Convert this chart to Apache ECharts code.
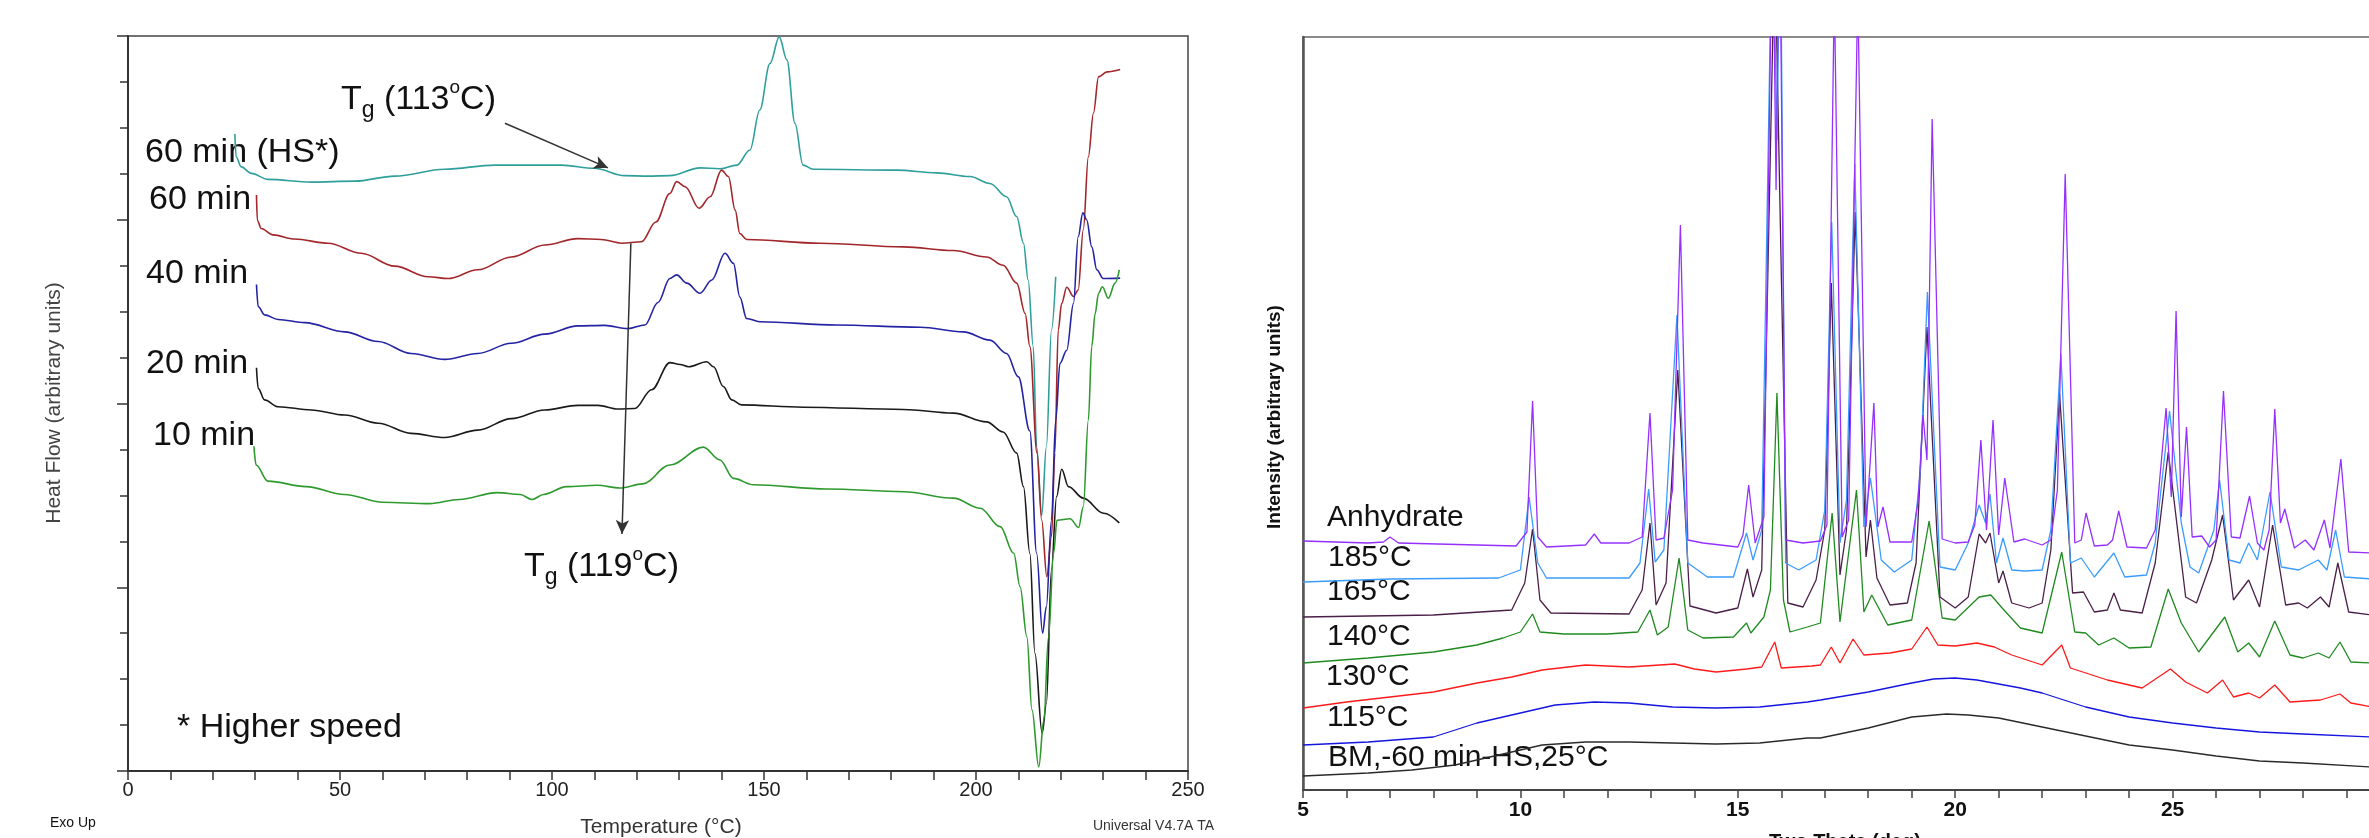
<!DOCTYPE html>
<html>
<head>
<meta charset="utf-8">
<script src="https://cdn.jsdelivr.net/npm/echarts@6/dist/echarts.min.js"></script>
<style>
  html, body { margin: 0; padding: 0; background: #fff; }
  #chart { width: 2369px; height: 838px; }
</style>
</head>
<body>
<div id="chart"></div>
<script>
// ---- DSC panel (left): [temperature °C, heat flow, arbitrary units] ----
const dsc60HS = [[25.2,13.87],[25.5,13.37],[26.7,13.15],[29.1,13.01],[33,12.88],[43.2,12.82],[53.5,12.84],[62.9,12.95],[74.7,13.10],[86.5,13.19],[102.2,13.19],[110,13.12],[117.1,12.96],[122.6,12.95],[127.8,12.96],[134.9,13.13],[139.6,13.11],[143.6,13.19],[146.7,13.52],[149.0,14.39],[151.4,15.40],[153.6,15.98],[155.4,15.48],[157.3,14.10],[159.2,13.19],[161.6,13.10],[181.3,13.08],[190.7,13.02],[198.6,12.94],[203.3,12.79],[207.2,12.5],[209.6,12.07],[211.2,11.49],[212.3,10.69],[213.5,9.24],[214.3,7.06],[215.5,5.57],[216.6,7.06],[217.8,9.6],[218.8,10.76]];
const dsc60 = [[30.3,12.54],[30.5,11.99],[31.4,11.81],[34.2,11.67],[39.3,11.58],[47.2,11.49],[55,11.27],[62.9,10.99],[70.8,10.76],[75.5,10.72],[82.5,10.91],[90.4,11.19],[98.3,11.45],[106.1,11.59],[111.6,11.57],[116.4,11.49],[121.1,11.52],[124.5,11.95],[127.8,12.57],[129.4,12.83],[131.4,12.72],[134.7,12.25],[137.3,12.5],[140.0,13.08],[141.6,12.94],[143.2,12.21],[144.3,11.7],[145.9,11.57],[163.2,11.49],[182.9,11.41],[194.7,11.33],[202.5,11.19],[206.4,11.01],[209.6,10.62],[211.6,9.96],[212.7,9.24],[214.4,6.92],[215.5,5.46],[216.7,4.23],[217.8,5.1],[218.6,6.92],[219.4,9.6],[220.2,10.18],[221.4,10.53],[223.0,10.33],[224.1,10.47],[225.3,11.78],[226.5,13.37],[227.7,14.32],[228.9,15.11],[230.9,15.22],[234.0,15.27]];
const dsc40 = [[30.3,10.59],[30.7,10.11],[32.2,9.93],[35.4,9.83],[41.7,9.76],[51.1,9.56],[59,9.35],[66.8,9.09],[74.7,8.96],[82.5,9.09],[90.4,9.31],[98.3,9.51],[106.1,9.69],[112.4,9.70],[117.9,9.63],[121.9,9.71],[125,10.2],[127.8,10.72],[129.4,10.80],[131.8,10.62],[134.9,10.40],[137.7,10.69],[140.8,11.27],[142.8,11.05],[144.3,10.32],[145.9,9.85],[149.0,9.78],[167.1,9.71],[186.8,9.66],[197,9.56],[203.3,9.38],[207.2,9.09],[210,8.58],[212.7,7.4],[214.3,4.74],[215.7,3.0],[216.6,3.58],[217.8,5.46],[218.8,7.64],[219.8,8.87],[221.4,9.16],[223.0,10.18],[224.1,11.63],[225.2,12.15],[226.1,12.0],[227.3,11.41],[228.5,10.91],[230.0,10.72],[234.0,10.73]];
const dsc20 = [[30.3,8.78],[30.7,8.33],[32.2,8.08],[35.4,7.93],[43.2,7.86],[51.1,7.75],[59,7.57],[66.8,7.35],[74.7,7.26],[82.5,7.42],[90.4,7.67],[98.3,7.86],[106.1,7.96],[110.8,7.96],[115.6,7.88],[119.5,7.89],[123.5,8.3],[127.8,8.89],[130.2,8.85],[132.2,8.80],[136.5,8.91],[138.1,8.80],[140.4,8.37],[142.4,8.08],[144.7,7.97],[159.2,7.92],[182.9,7.87],[194.7,7.79],[202.5,7.60],[206.4,7.38],[209.6,6.92],[211.2,6.19],[212.7,4.74],[213.9,2.56],[215.6,0.82],[216.6,1.47],[217.8,4.38],[219,5.97],[220.2,6.57],[221.8,6.19],[225.3,5.94],[230.1,5.61],[233.8,5.40]];
const dsc10 = [[29.7,7.07],[30.2,6.66],[33,6.31],[42,6.19],[51,6.02],[60.1,5.85],[71.1,5.82],[78.1,5.91],[87.1,6.06],[92.5,6.02],[95.3,5.91],[98,6.02],[103.4,6.19],[110.6,6.22],[116,6.16],[121.4,6.25],[127.8,6.66],[135.7,7.05],[139.6,6.77],[142.8,6.37],[147.5,6.23],[164.8,6.14],[182.9,6.08],[194.7,5.94],[201,5.72],[205.7,5.32],[208.9,4.74],[210.4,4.01],[212,2.92],[213.2,1.33],[214.8,0.09],[216.0,1.11],[217.1,2.92],[218.3,4.74],[219.1,5.46],[222.2,5.49],[224.2,5.30],[225.3,5.75],[226.5,7.64],[227.3,9.24],[228.1,9.96],[228.9,10.40],[229.8,10.54],[231.2,10.29],[232.8,10.62],[233.8,10.91]];
const dscNames = ['60 min (HS*)', '60 min', '40 min', '20 min', '10 min'];
const dscColors = ['#2f9f9c', '#a3262a', '#2323a3', '#1a1a1a', '#2e9a2e'];

// Tg arrows: [start, end] in data coordinates
const tg113Arrow = [[88.9, 14.1], [113.2, 13.13]];
const tg119Arrow = [[118.6, 11.49], [116.5, 5.16]];

// ---- XRD panel (right): [two theta deg, intensity, arbitrary units] ----
const xrdAnhydrate = [[5.0,249],[6.5,247],[6.85,248],[7.0,253],[7.2,247],[9.0,245],[9.9,244],[10.15,258],[10.28,389],[10.4,253],[10.6,243],[11.5,245],[11.7,256],[11.85,247],[12.5,247],[12.8,253],[12.98,377],[13.12,250],[13.3,252],[13.5,300],[13.68,565],[13.85,250],[14.2,247],[15.0,243],[15.12,255],[15.25,305],[15.4,247],[15.6,273],[15.8,900],[15.88,600],[15.96,900],[16.1,250],[16.5,247],[16.9,249],[17.05,265],[17.22,800],[17.4,253],[17.55,270],[17.76,800],[17.95,263],[18.13,387],[18.22,263],[18.34,283],[18.5,248],[19.0,248],[19.15,290],[19.26,375],[19.35,330],[19.47,671],[19.7,251],[20.0,247],[20.3,248],[20.45,265],[20.59,350],[20.72,260],[20.87,370],[21.0,255],[21.14,312],[21.35,248],[21.6,251],[22.0,245],[22.2,250],[22.35,300],[22.53,616],[22.75,247],[22.9,250],[23.01,277],[23.2,244],[23.5,245],[23.62,250],[23.76,279],[23.95,243],[24.4,242],[24.6,260],[24.85,382],[24.97,293],[25.08,479],[25.2,273],[25.32,363],[25.45,253],[25.67,254],[25.85,243],[26.0,250],[26.17,399],[26.35,253],[26.55,252],[26.77,294],[26.95,247],[27.1,240],[27.22,260],[27.35,381],[27.48,267],[27.58,281],[27.8,242],[28.05,250],[28.25,240],[28.49,270],[28.62,242],[28.87,331],[29.05,238],[29.6,237]];
const xrd185 = [[5.0,208],[7.0,211],[9.5,212],[10.0,220],[10.2,293],[10.4,227],[10.6,212],[12.5,212],[12.75,227],[12.95,301],[13.1,228],[13.3,240],[13.6,475],[13.85,227],[14.3,213],[14.9,213],[15.2,257],[15.35,230],[15.55,260],[15.8,900],[15.9,650],[15.98,880],[16.1,227],[16.4,220],[16.8,230],[17.0,280],[17.16,568],[17.35,247],[17.5,290],[17.69,626],[17.9,263],[18.05,312],[18.3,230],[18.6,218],[19.0,230],[19.2,320],[19.36,498],[19.65,223],[20.0,220],[20.3,247],[20.55,285],[20.7,267],[20.8,296],[20.95,227],[21.1,252],[21.3,220],[21.6,219],[22.0,220],[22.2,260],[22.43,436],[22.65,227],[22.9,232],[23.2,213],[23.65,237],[23.9,213],[24.4,215],[24.6,247],[24.93,379],[25.2,267],[25.4,223],[25.6,217],[25.95,260],[26.08,310],[26.3,230],[26.55,227],[26.75,247],[26.95,230],[27.24,298],[27.5,223],[27.9,220],[28.35,230],[28.55,220],[28.75,260],[28.95,213],[29.6,211]];
const xrd165 = [[5.0,173],[8.0,175],[9.8,180],[10.1,207],[10.28,261],[10.45,190],[10.7,177],[12.5,176],[12.8,200],[12.98,267],[13.12,185],[13.35,207],[13.62,420],[13.9,184],[14.5,177],[15.0,182],[15.22,221],[15.35,193],[15.55,220],[15.85,850],[16.15,187],[16.5,183],[16.8,210],[17.0,260],[17.15,507],[17.35,215],[17.5,260],[17.7,578],[17.95,233],[18.05,270],[18.2,212],[18.5,185],[18.9,187],[19.1,227],[19.35,463],[19.65,193],[20.0,182],[20.3,193],[20.55,256],[20.7,247],[20.8,257],[21.0,207],[21.1,219],[21.3,187],[21.7,182],[22.0,187],[22.2,240],[22.4,396],[22.7,197],[22.95,198],[23.2,178],[23.5,180],[23.65,197],[23.8,180],[24.3,177],[24.6,227],[24.9,338],[25.3,193],[25.55,187],[25.9,230],[26.15,275],[26.4,190],[26.75,210],[27.0,183],[27.3,265],[27.6,185],[27.9,187],[28.1,182],[28.4,193],[28.6,183],[28.8,227],[29.05,178],[29.6,175]];
const xrd140 = [[5.0,127],[6.5,132],[8.0,138],[9.0,145],[9.6,152],[10.0,158],[10.28,176],[10.45,158],[11.0,156],[12.0,156],[12.7,158],[12.98,180],[13.15,155],[13.4,163],[13.65,232],[13.85,160],[14.2,152],[14.9,153],[15.2,167],[15.3,157],[15.6,173],[15.75,200],[15.9,397],[16.05,190],[16.2,158],[16.6,163],[16.9,167],[17.17,277],[17.35,168],[17.73,300],[17.9,178],[18.08,195],[18.45,165],[19.0,170],[19.4,269],[19.7,172],[20.0,170],[20.55,193],[20.82,195],[21.1,181],[21.5,162],[22.0,157],[22.45,238],[22.75,158],[23.0,157],[23.3,145],[23.65,152],[24.0,142],[24.5,143],[24.9,201],[25.2,167],[25.6,138],[26.2,173],[26.5,138],[26.75,147],[27.0,133],[27.35,169],[27.7,135],[28.0,132],[28.35,137],[28.6,132],[28.85,148],[29.1,128],[29.6,127]];
const xrd130 = [[5.0,82],[6.0,88],[7.0,93],[8.0,98],[9.0,107],[9.8,113],[10.5,120],[11.5,125],[12.5,123],[13.55,126],[14.0,121],[14.5,118],[15.2,121],[15.55,123],[15.85,148],[16.0,122],[16.7,124],[16.9,125],[17.15,143],[17.35,127],[17.65,151],[17.9,135],[18.5,137],[19.0,141],[19.35,163],[19.6,145],[20.0,144],[20.5,147],[20.9,143],[21.3,135],[22.0,125],[22.45,145],[22.65,122],[23.5,110],[24.3,102],[24.95,121],[25.3,108],[25.8,97],[26.15,110],[26.4,93],[26.75,97],[27.0,92],[27.35,105],[27.7,88],[28.4,90],[28.85,96],[29.1,87],[29.6,83]];
const xrd115 = [[5.0,45],[6.5,48],[8.0,53],[9.0,67],[10.0,77],[10.8,85],[11.7,88],[12.5,87],[13.5,83],[14.5,82],[15.5,83],[16.6,88],[16.9,90],[18.0,98],[19.0,107],[19.5,111],[20.0,112],[20.5,110],[21.0,106],[21.5,102],[22.0,97],[22.5,90],[23.0,83],[24.0,73],[25.0,67],[26.0,62],[27.0,58],[28.0,56],[29.6,53]];
const xrdBM = [[5.0,14],[6.5,17],[7.5,20],[8.5,25],[9.5,35],[10.5,45],[11.5,48],[12.5,48],[13.5,47],[14.5,46],[15.5,47],[16.6,52],[16.9,52],[18.0,62],[19.0,73],[19.8,76],[20.3,75],[21.0,72],[22.0,63],[23.0,54],[24.0,45],[25.0,40],[26.0,34],[27.0,29],[28.0,27],[29.6,23]];
const xrdNames = ['Anhydrate', '185°C', '165°C', '140°C', '130°C', '115°C', 'BM,-60 min-HS,25°C'];
const xrdColors = ['#9530ff', '#3a9cff', '#4a1f48', '#1f8a1f', '#ff1a1a', '#1515e0', '#2a2a2a'];

const font = "'Liberation Sans', Arial, sans-serif";
const narrow = "'Liberation Sans Narrow', 'Liberation Sans', Arial, sans-serif";

const chart = echarts.init(document.getElementById('chart'));

const dscSeries = [dsc60HS, dsc60, dsc40, dsc20, dsc10].map((d, i) => ({
  name: dscNames[i],
  type: 'line',
  xAxisIndex: 0,
  yAxisIndex: 0,
  data: d,
  smooth: 0.35,
  smoothMonotone: 'x',
  showSymbol: false,
  lineStyle: { color: dscColors[i], width: 1.6 },
  z: 3
}));

const xrdSeries = [xrdAnhydrate, xrd185, xrd165, xrd140, xrd130, xrd115, xrdBM].map((d, i) => ({
  name: xrdNames[i],
  type: 'line',
  xAxisIndex: 1,
  yAxisIndex: 1,
  data: d,
  showSymbol: false,
  lineStyle: { color: xrdColors[i], width: 1.3 },
  z: 10 - i
}));

// Tg arrows drawn as markLines on an empty helper series
const arrowSeries = {
  type: 'line',
  xAxisIndex: 0,
  yAxisIndex: 0,
  data: [],
  markLine: {
    silent: true,
    symbol: ['none', 'arrow'],
    symbolSize: [10, 14],
    label: { show: false },
    lineStyle: { color: '#333', width: 1.5, type: 'solid' },
    data: [
      [{ coord: tg113Arrow[0] }, { coord: tg113Arrow[1] }],
      [{ coord: tg119Arrow[0] }, { coord: tg119Arrow[1] }]
    ]
  }
};

// rich text for T_g labels
const tgRich = {
  n: { fontSize: 34, fontFamily: font, fill: '#111', lineHeight: 44 },
  s: { fontSize: 23, fontFamily: font, fill: '#111', lineHeight: 22, verticalAlign: 'bottom' },
  p: { fontSize: 19, fontFamily: font, fill: '#111', lineHeight: 18, verticalAlign: 'top' }
};

function label(text, x, y, size) {
  return {
    type: 'text', x: x, y: y, silent: true,
    style: { text: text, fontSize: size, fontFamily: font, fill: '#111', verticalAlign: 'middle' }
  };
}

const dscLabelPos = [[145, 153], [149, 200], [146, 274], [146, 364], [153, 436]];
const xrdLabelPos = [[1327, 518], [1328, 558], [1327, 592], [1327, 637], [1326, 677], [1327, 718], [1328, 758]];

const graphics = [];
dscNames.forEach((n, i) => graphics.push(label(n, dscLabelPos[i][0], dscLabelPos[i][1], 34)));
xrdNames.forEach((n, i) => graphics.push(label(n, xrdLabelPos[i][0], xrdLabelPos[i][1], 30)));
graphics.push(label('* Higher speed', 177, 728, 34));
graphics.push({
  type: 'text', x: 341, y: 100, silent: true,
  style: { text: '{n|T}{s|g}{n| (113}{p|o}{n|C)}', rich: tgRich, verticalAlign: 'middle' }
});
graphics.push({
  type: 'text', x: 524, y: 567, silent: true,
  style: { text: '{n|T}{s|g}{n| (119}{p|o}{n|C)}', rich: tgRich, verticalAlign: 'middle' }
});
// axis names and instrument footers
graphics.push({
  type: 'text', x: 54, y: 403, rotation: Math.PI / 2, silent: true,
  style: { text: 'Heat Flow (arbitrary units)', fontSize: 21, fontFamily: narrow, fill: '#444', align: 'center', verticalAlign: 'middle' }
});
graphics.push({
  type: 'text', x: 661, y: 827, silent: true,
  style: { text: 'Temperature (°C)', fontSize: 21, fontFamily: narrow, fill: '#333', align: 'center', verticalAlign: 'middle' }
});
graphics.push(label('Exo Up', 50, 823, 14));
graphics.push({
  type: 'text', x: 1214, y: 826, silent: true,
  style: { text: 'Universal V4.7A TA', fontSize: 14, fontFamily: font, fill: '#333', align: 'right', verticalAlign: 'middle' }
});
graphics.push({
  type: 'text', x: 1275, y: 417, rotation: Math.PI / 2, silent: true,
  style: { text: 'Intensity (arbitrary units)', fontSize: 19, fontWeight: 'bold', fontFamily: font, fill: '#111', align: 'center', verticalAlign: 'middle' }
});
graphics.push({
  type: 'text', x: 1845, y: 832, silent: true,
  style: { text: 'Two Theta (deg)', fontSize: 20, fontWeight: 'bold', fontFamily: font, fill: '#111', align: 'center', verticalAlign: 'top' }
});

const option = {
  animation: false,
  backgroundColor: '#fff',
  grid: [
    { left: 128, top: 36, width: 1060, height: 735, show: true, borderColor: '#444', borderWidth: 1.5, outerBoundsMode: 'none' },
    // right panel runs past the canvas edge, as in the cropped original
    { left: 1303, top: 37, width: 1087, height: 753, show: true, borderColor: '#666', borderWidth: 1.5, outerBoundsMode: 'none' }
  ],
  xAxis: [
    {
      gridIndex: 0, type: 'value', min: 0, max: 250, interval: 50,
      axisLine: { lineStyle: { color: '#333', width: 2 } },
      axisTick: { length: 9, lineStyle: { color: '#333', width: 1.5 } },
      minorTick: { show: true, splitNumber: 5, length: 9, lineStyle: { color: '#333', width: 1.5 } },
      splitLine: { show: false },
      axisLabel: { fontSize: 20, color: '#222', margin: 9, fontFamily: narrow }
    },
    {
      gridIndex: 1, type: 'value', min: 5, max: 30, interval: 5,
      axisLine: { lineStyle: { color: '#444', width: 2 } },
      axisTick: { length: 8, lineStyle: { color: '#444', width: 1.5 } },
      minorTick: { show: true, splitNumber: 5, length: 8, lineStyle: { color: '#444', width: 1.5 } },
      splitLine: { show: false },
      axisLabel: { fontSize: 21, fontWeight: 'bold', color: '#111', margin: 10, fontFamily: font }
    }
  ],
  yAxis: [
    {
      gridIndex: 0, type: 'value', min: 0, max: 16, interval: 4,
      axisLine: { show: true, lineStyle: { color: '#333', width: 2 } },
      axisTick: { show: true, length: 11, lineStyle: { color: '#333', width: 1.5 } },
      minorTick: { show: true, splitNumber: 4, length: 8, lineStyle: { color: '#333', width: 1.5 } },
      axisLabel: { show: false },
      splitLine: { show: false }
    },
    {
      gridIndex: 1, type: 'value', min: 0, max: 753,
      axisLine: { show: true, lineStyle: { color: '#555', width: 2.5 } },
      axisTick: { show: false },
      axisLabel: { show: false },
      splitLine: { show: false }
    }
  ],
  series: [...dscSeries, arrowSeries, ...xrdSeries],
  graphic: graphics
};

chart.setOption(option);
</script>
</body>
</html>
